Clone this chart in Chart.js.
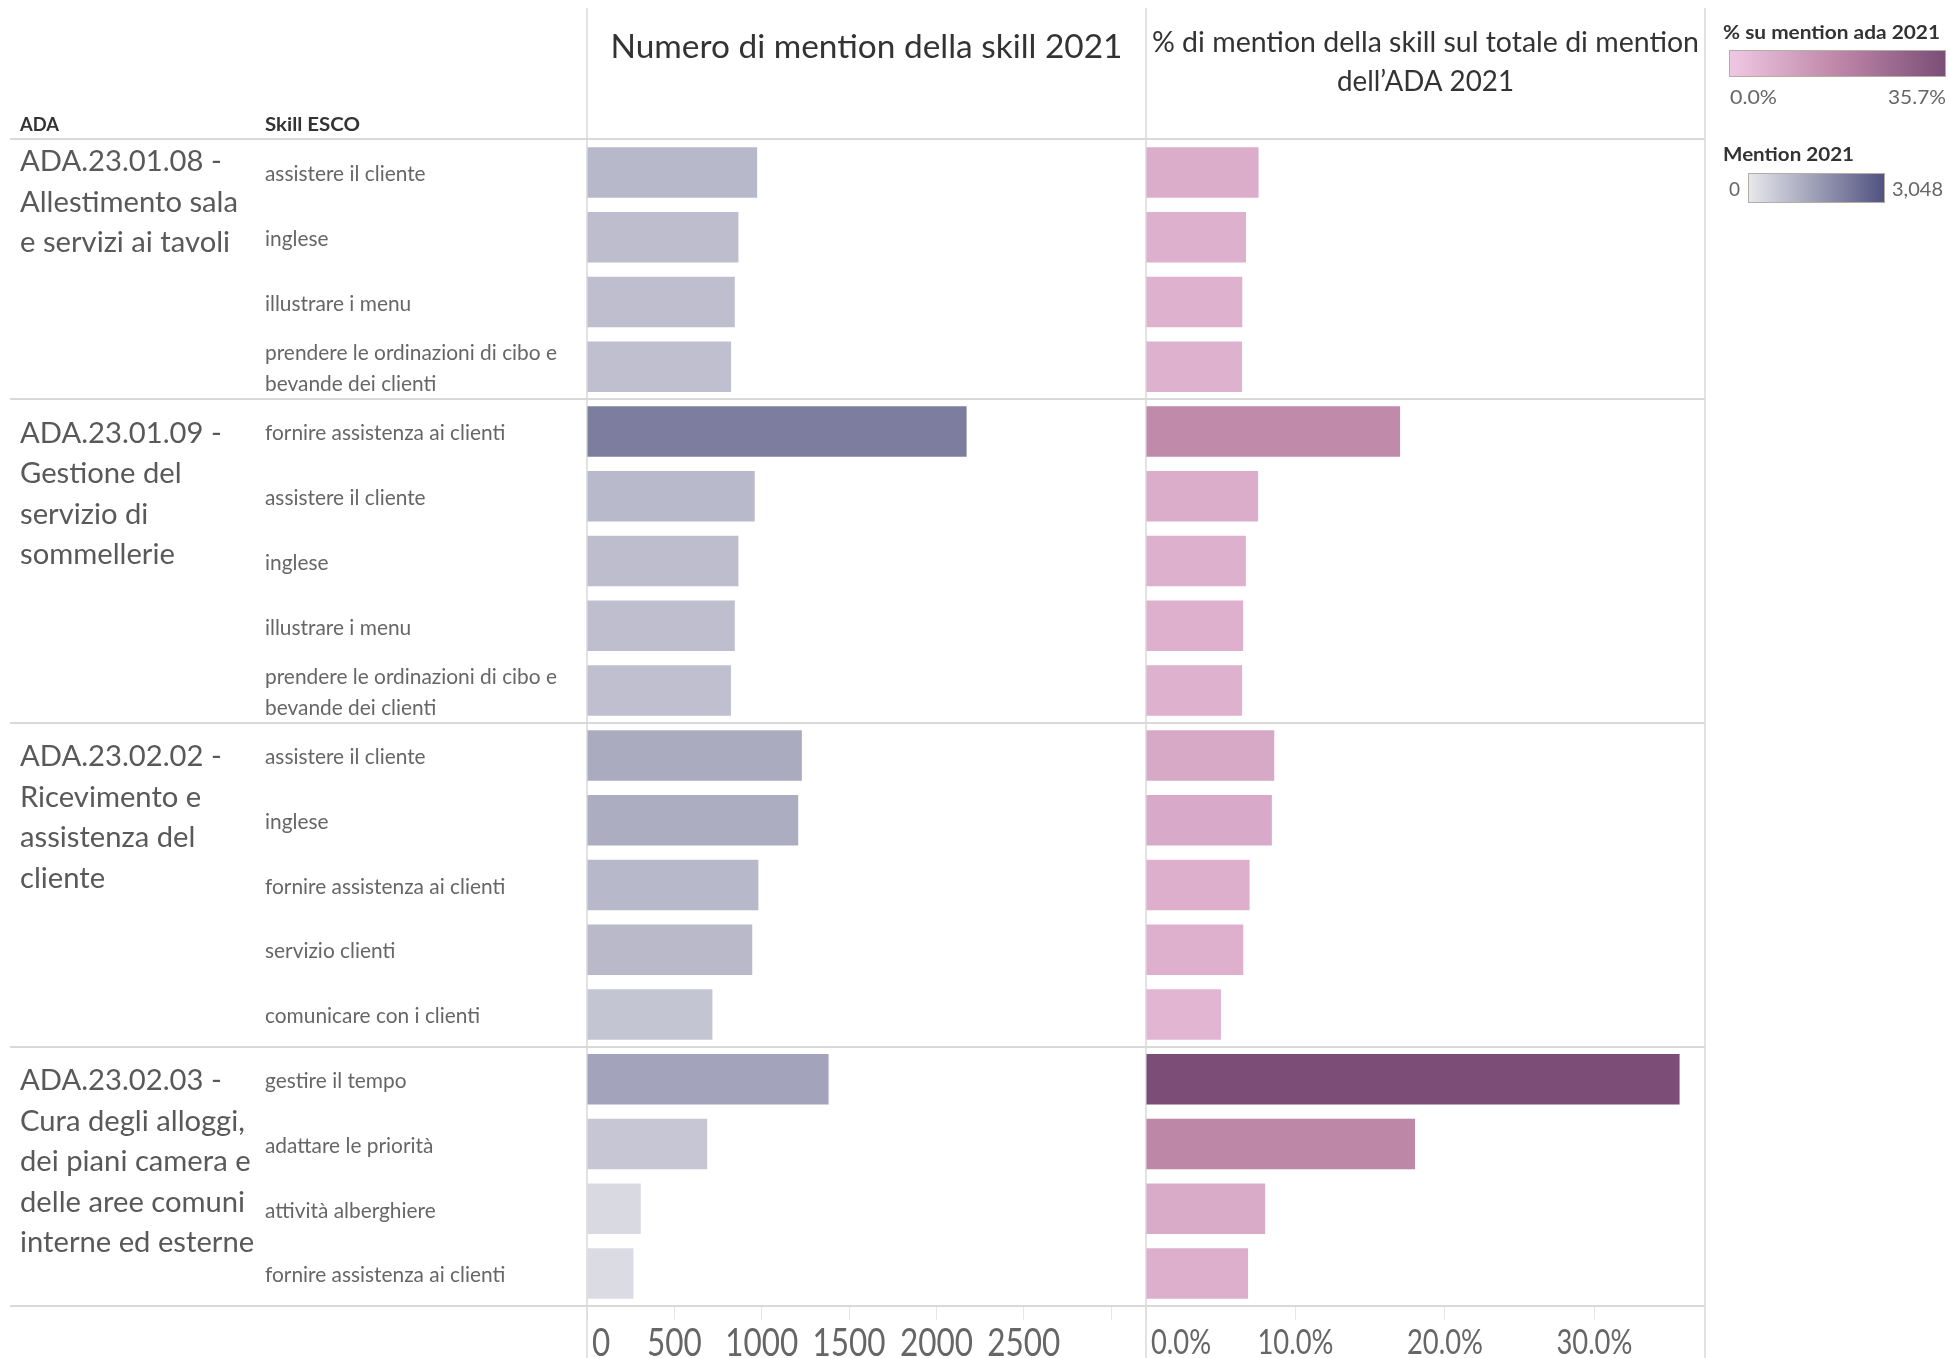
<!DOCTYPE html>
<html>
<head>
<meta charset="utf-8">
<script src="https://cdn.jsdelivr.net/npm/chart.js@4.4.1/dist/chart.umd.min.js"></script>
<style>
  html, body { margin: 0; padding: 0; background: #ffffff; }
</style>
</head>
<body>
<canvas id="skillChart" width="1951" height="1358"></canvas>
<script>
// Data
var adaNames = [
    'ADA.23.01.08 -\nAllestimento sala\ne servizi ai tavoli',
    'ADA.23.01.09 -\nGestione del\nservizio di\nsommellerie',
    'ADA.23.02.02 -\nRicevimento e\nassistenza del\ncliente',
    'ADA.23.02.03 -\nCura degli alloggi,\ndei piani camera e\ndelle aree comuni\ninterne ed esterne'
];
var skillsPerAda = [4, 5, 5, 4];
var skills = [
    'assistere il cliente', 'inglese', 'illustrare i menu', 'prendere le ordinazioni di cibo e\nbevande dei clienti',
    'fornire assistenza ai clienti', 'assistere il cliente', 'inglese', 'illustrare i menu', 'prendere le ordinazioni di cibo e\nbevande dei clienti',
    'assistere il cliente', 'inglese', 'fornire assistenza ai clienti', 'servizio clienti', 'comunicare con i clienti',
    'gestire il tempo', 'adattare le priorità', 'attività alberghiere', 'fornire assistenza ai clienti'
];
var mentions2021 = [974, 867, 846, 825, 2173, 960, 867, 846, 824, 1230, 1209, 981, 946, 718, 1383, 688, 308, 266];
var shareOfAda2021 = [7.53, 6.69, 6.44, 6.42, 17.0, 7.5, 6.68, 6.5, 6.43, 8.58, 8.42, 6.93, 6.51, 5.02, 35.7, 18.0, 7.97, 6.83];
var countTicks = [0, 500, 1000, 1500, 2000, 2500, 3000];
var countTickLabels = ['0', '500', '1000', '1500', '2000', '2500', ''];
var shareTicks = [0, 10, 20, 30];
var mentionLegendMax = 3048;
var shareLegendMax = 35.7;

// colour ramps like the tableau legends
var countRamp = [[232, 232, 236], [80, 82, 128]];
var shareRamp = [[240, 200, 228], [190, 135, 168], [123, 77, 119]];

function rampColor(stops, t) {
    t = Math.max(0, Math.min(1, t));
    var seg = t * (stops.length - 1);
    var i = Math.min(Math.floor(seg), stops.length - 2);
    var f = seg - i;
    var a = stops[i], b = stops[i + 1];
    return 'rgb(' + [0, 1, 2].map(function(k) { return Math.round(a[k] + (b[k] - a[k]) * f); }).join(',') + ')';
}

var FONT = 'Lato, "Open Sans", sans-serif';
var LINE = '#d9d9d9';

function setFont(ctx, size, bold) {
    ctx.font = (bold ? 'bold ' : '') + size + 'px ' + FONT;
}

// horizontal squeeze so a sample string gets the width it has in the picture
function squeeze(ctx, sample, size, bold, width) {
    ctx.save();
    setFont(ctx, size, bold);
    var w = ctx.measureText(sample).width;
    ctx.restore();
    return width / w;
}

function drawText(ctx, str, x, y, size, o) {
    o = o || {};
    ctx.save();
    setFont(ctx, size, o.bold);
    ctx.fillStyle = o.color || '#333333';
    ctx.textBaseline = 'middle';
    ctx.textAlign = o.align || 'left';
    var sx = o.sx || 1;
    if (o.width) sx = o.width / ctx.measureText(str).width;
    ctx.translate(x, y);
    ctx.scale(sx, 1);
    ctx.fillText(str, 0, 0);
    ctx.restore();
}

function hLine(ctx, x1, x2, y, w) {
    ctx.beginPath();
    ctx.moveTo(x1, y);
    ctx.lineTo(x2, y);
    ctx.lineWidth = w || 2;
    ctx.strokeStyle = LINE;
    ctx.stroke();
}

function vLine(ctx, x, y1, y2) {
    ctx.beginPath();
    ctx.moveTo(x, y1);
    ctx.lineTo(x, y2);
    ctx.lineWidth = 1.5;
    ctx.strokeStyle = LINE;
    ctx.stroke();
}

var tablePlugin = {
    id: 'tableLayout',
    beforeDatasetsDraw: function(chart) {
        var c = chart.ctx, area = chart.chartArea, y = chart.scales.y;
        var xs = chart.scales.x, xs2 = chart.scales.x2;
        c.save();
        // header line, group separators, bottom line
        hLine(c, 10, xs2.right, area.top - 1);
        var idx = 0;
        skillsPerAda.forEach(function(n) {
            idx += n;
            var yy = idx < skills.length ? (y.getPixelForValue(idx - 1) + y.getPixelForValue(idx)) / 2 : area.bottom;
            hLine(c, 10, xs2.right, yy);
        });
        vLine(c, xs.left, 8, chart.height);
        vLine(c, xs2.left, 8, chart.height);
        vLine(c, xs2.right, 8, chart.height);
        c.restore();
    },
    afterDraw: function(chart) {
        var c = chart.ctx, y = chart.scales.y, area = chart.chartArea;
        var xs = chart.scales.x, xs2 = chart.scales.x2;

        // column titles
        drawText(c, 'Numero di mention della skill 2021', (xs.left + xs.right) / 2, 47, 33, { align: 'center', width: 512 });
        drawText(c, '% di mention della skill sul totale di mention', (xs2.left + xs2.right) / 2, 43, 29, { align: 'center', width: 547 });
        drawText(c, 'dell\u2019ADA 2021', (xs2.left + xs2.right) / 2, 82, 29, { align: 'center', width: 177 });

        drawText(c, 'ADA', 20, 125, 19, { bold: true, width: 39 });
        drawText(c, 'Skill ESCO', 265, 125, 19, { bold: true, width: 95 });

        // ADA names
        var adaSx = squeeze(c, 'Allestimento sala', 28, false, 218);
        var start = 0;
        adaNames.forEach(function(name, gi) {
            // the first pane sits right under the header, the others start on their first row
            var top = gi === 0 ? area.top + 22 : y.getPixelForValue(start) + 2;
            name.split('\n').forEach(function(line, li) {
                drawText(c, line, 20, top + li * 40.5, 28, { color: '#595959', sx: adaSx });
            });
            start += skillsPerAda[gi];
        });

        // skill names
        var skSx = squeeze(c, 'prendere le ordinazioni di cibo e', 21, false, 292);
        skills.forEach(function(s, i) {
            var lines = s.split('\n');
            var cy = y.getPixelForValue(i) + 2;
            lines.forEach(function(line, li) {
                drawText(c, line, 265, cy + (li - (lines.length - 1) / 2) * 31, 21, { color: '#666666', sx: skSx });
            });
        });

        // axis labels
        var tSx = squeeze(c, '2500', 38, false, 73);
        countTicks.forEach(function(v, i) {
            if (!countTickLabels[i]) return;
            var px = xs.getPixelForValue(v);
            drawText(c, countTickLabels[i], i === 0 ? px + 5 : px, 1344, 38, { color: '#666666', sx: tSx, align: i === 0 ? 'left' : 'center' });
        });
        var pSx = squeeze(c, '10.0%', 34, false, 76);
        shareTicks.forEach(function(v, i) {
            var px = xs2.getPixelForValue(v);
            drawText(c, v.toFixed(1) + '%', i === 0 ? px + 5 : px, 1343, 34, { color: '#666666', sx: pSx, align: i === 0 ? 'left' : 'center' });
        });

        // colour legends
        drawText(c, '% su mention ada 2021', 1723, 33, 19, { bold: true, width: 217 });
        var g1 = c.createLinearGradient(1729, 0, 1946, 0);
        shareRamp.forEach(function(col, k) { g1.addColorStop(k / (shareRamp.length - 1), 'rgb(' + col.join(',') + ')'); });
        c.fillStyle = g1;
        c.fillRect(1729, 50, 217, 27);
        c.strokeStyle = '#b3ada4';
        c.lineWidth = 1;
        c.strokeRect(1729.5, 50.5, 216, 26);
        drawText(c, '0.0%', 1730, 98, 19, { color: '#666666', width: 47 });
        drawText(c, shareLegendMax.toFixed(1) + '%', 1946, 98, 19, { color: '#666666', align: 'right', width: 58 });

        drawText(c, 'Mention 2021', 1723, 155, 19, { bold: true, width: 131 });
        var g2 = c.createLinearGradient(1748, 0, 1885, 0);
        countRamp.forEach(function(col, k) { g2.addColorStop(k / (countRamp.length - 1), 'rgb(' + col.join(',') + ')'); });
        c.fillStyle = g2;
        c.fillRect(1748, 173, 137, 30);
        c.strokeStyle = '#b3ada4';
        c.strokeRect(1748.5, 173.5, 136, 29);
        drawText(c, '0', 1729, 190, 19, { color: '#666666' });
        drawText(c, mentionLegendMax.toLocaleString('en-US'), 1892, 190, 19, { color: '#666666', width: 51 });
    }
};

var ctx = document.getElementById('skillChart').getContext('2d');
var chart = new Chart(ctx, {
    type: 'bar',
    data: {
        labels: skills,
        datasets: [{
            label: 'Numero di mention della skill 2021',
            data: mentions2021,
            xAxisID: 'x',
            backgroundColor: mentions2021.map(function(v) { return rampColor(countRamp, v / mentionLegendMax); }),
            grouped: false,
            barPercentage: 0.78,
            categoryPercentage: 1
        }, {
            label: '% di mention della skill sul totale di mention dell\u2019ADA 2021',
            data: shareOfAda2021,
            xAxisID: 'x2',
            backgroundColor: shareOfAda2021.map(function(v) { return rampColor(shareRamp, v / shareLegendMax); }),
            grouped: false,
            barPercentage: 0.78,
            categoryPercentage: 1
        }]
    },
    options: {
        indexAxis: 'y',
        responsive: false,
        animation: false,
        layout: { padding: { left: 587, right: 246, top: 140, bottom: 0 } },
        plugins: {
            legend: { display: false },
            tooltip: { enabled: false }
        },
        scales: {
            y: { type: 'category', display: false, offset: true },
            x: {
                type: 'linear',
                position: 'bottom',
                stack: 'panels',
                min: 0,
                max: 3200,
                afterBuildTicks: function(s) { s.ticks = countTicks.map(function(v) { return { value: v }; }); },
                afterFit: function(s) { s.height = 52; },
                grid: { drawOnChartArea: false, drawTicks: true, tickLength: 14, color: '#e6e6e6' },
                border: { display: false },
                ticks: { display: false }
            },
            x2: {
                type: 'linear',
                position: 'bottom',
                stack: 'panels',
                min: 0,
                max: 37.4,
                afterBuildTicks: function(s) { s.ticks = shareTicks.map(function(v) { return { value: v }; }); },
                afterFit: function(s) { s.height = 52; },
                grid: { drawOnChartArea: false, drawTicks: true, tickLength: 14, color: '#e6e6e6' },
                border: { display: false },
                ticks: { display: false }
            }
        }
    },
    plugins: [tablePlugin]
});
</script>
</body>
</html>
